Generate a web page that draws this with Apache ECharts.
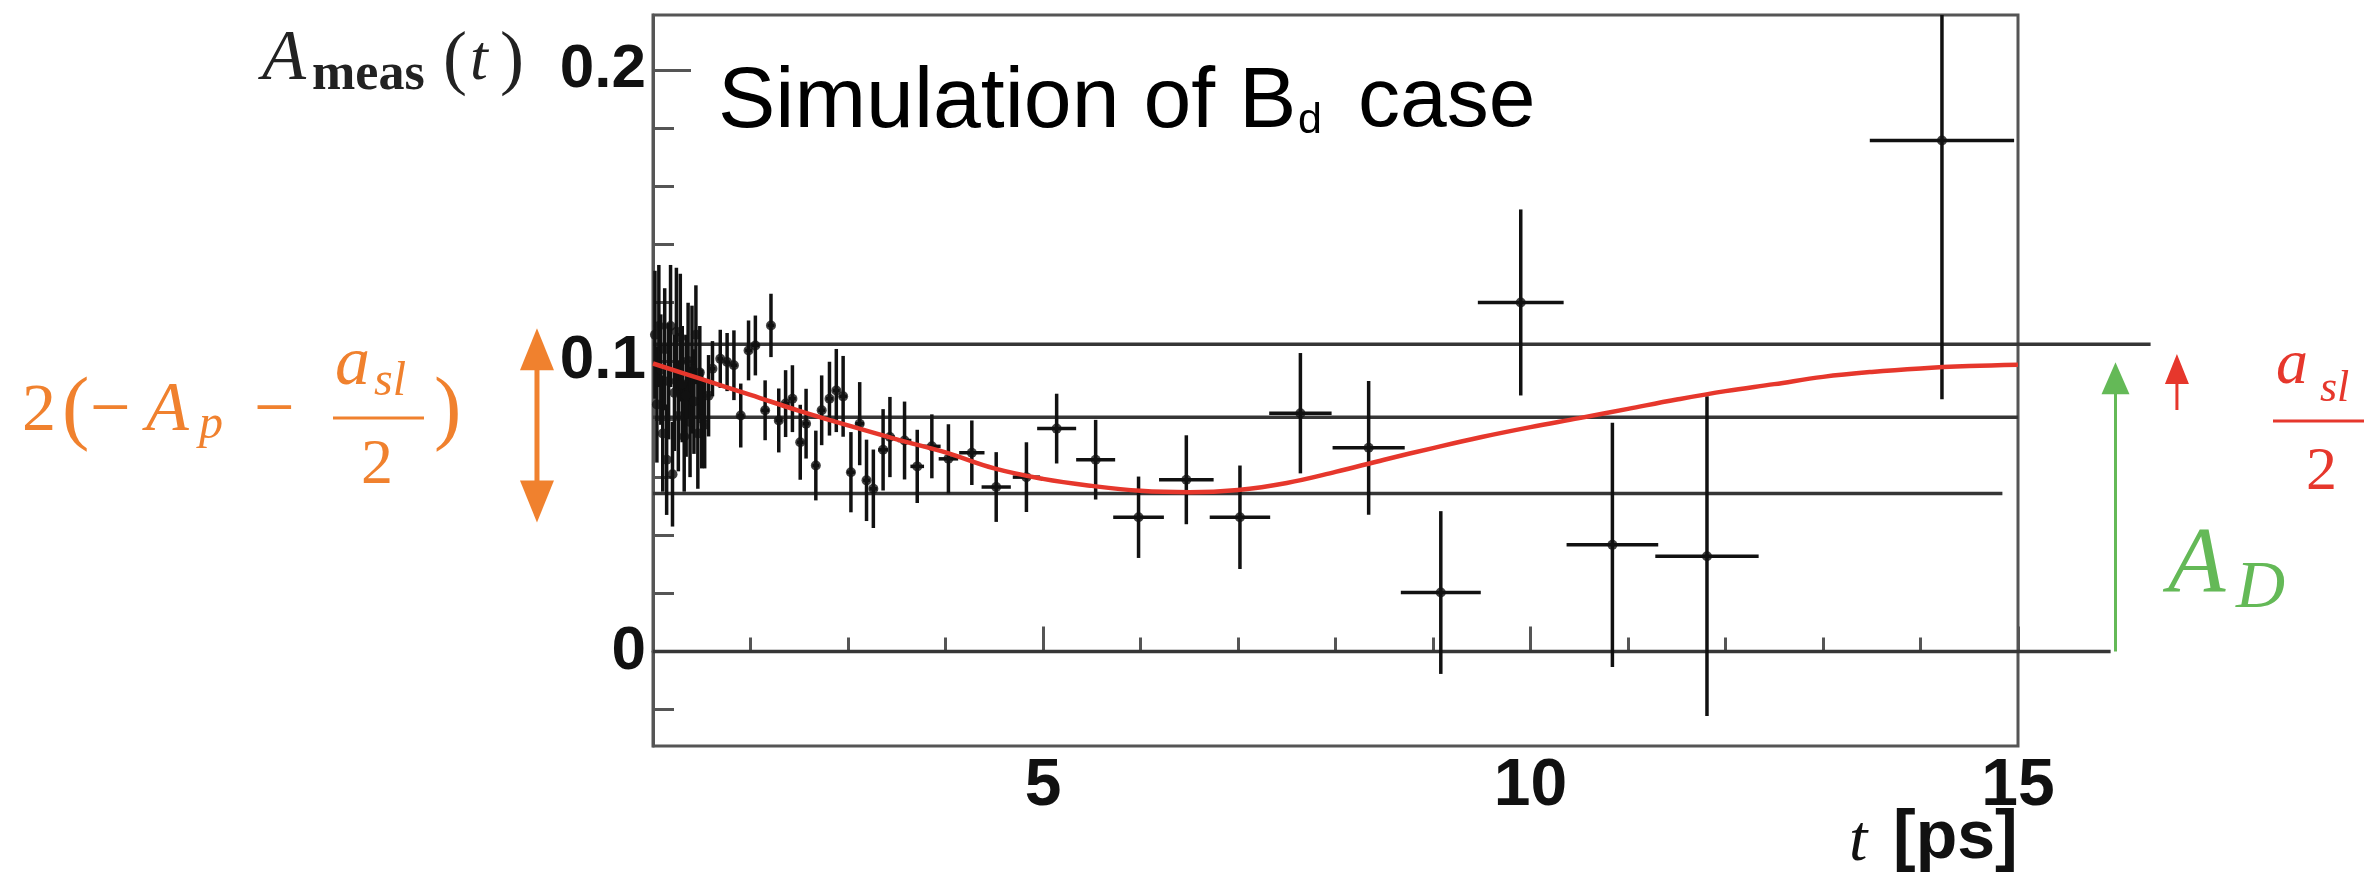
<!DOCTYPE html>
<html>
<head>
<meta charset="utf-8">
<script src="https://cdn.jsdelivr.net/npm/echarts@6/dist/echarts.min.js"></script>
<style>
  html, body { margin: 0; padding: 0; background: #ffffff; }
  #chart { width: 2364px; height: 880px; }
</style>
</head>
<body>
<div id="chart"></div>
<script>
// ---- measured asymmetry A_meas(t), simulated B_d sample ----
const times = [1.02,1.04,1.06,1.08,1.10,1.12,1.14,1.16,1.18,1.20,1.22,1.24,1.26,1.28,1.30,1.32,1.34,1.36,1.38,1.40,1.42,1.44,1.46,1.48,1.50,1.53,1.57,
  1.61,1.69,1.76,1.83,1.90,1.98,2.05,2.15,2.21,2.29,2.36,2.43,2.51,2.57,2.67,2.73,
  2.81,2.88,2.95,3.03,3.12,3.19,3.26,3.36,3.43,3.58,3.71,3.86,4.03,4.27,4.52,4.83,5.14,
  5.54,5.98,6.47,7.02,7.64,8.34,9.08,9.90,10.84,11.81,14.22];
const values = [0.109,0.085,0.112,0.097,0.075,0.104,0.066,0.093,0.112,0.061,0.089,0.110,0.081,0.108,0.092,0.074,0.088,0.100,0.079,0.097,0.086,0.109,0.075,0.096,0.080,0.078,0.088,
  0.0973,0.1007,0.0996,0.0985,0.0812,0.1036,0.1053,0.0830,0.1122,0.0795,0.0853,0.0870,0.0720,0.0784,0.0640,0.0830,
  0.0870,0.0898,0.0878,0.0617,0.0784,0.0589,0.0560,0.0694,0.0738,0.0726,0.0637,0.0706,0.0663,0.0684,0.0566,0.0600,0.0767,
  0.0660,0.0462,0.0591,0.0462,0.0820,0.0701,0.0203,0.1201,0.0367,0.0328,0.1758];
const errV = [0.022,0.020,0.021,0.019,0.020,0.021,0.019,0.020,0.021,0.018,0.020,0.022,0.019,0.022,0.020,0.019,0.021,0.020,0.019,0.022,0.018,0.017,0.019,0.016,0.017,0.015,0.014,
  0.0095,0.010,0.010,0.012,0.011,0.0103,0.0103,0.0103,0.0109,0.011,0.0115,0.0115,0.0129,0.012,0.012,0.012,
  0.0127,0.0143,0.0139,0.0138,0.0143,0.014,0.0135,0.014,0.0138,0.0134,0.0126,0.011,0.0119,0.0111,0.012,0.012,0.012,
  0.0137,0.014,0.0153,0.0178,0.0207,0.023,0.028,0.032,0.042,0.055,0.089];
const errT = [0.01,0.01,0.01,0.01,0.01,0.01,0.01,0.01,0.01,0.01,0.01,0.01,0.01,0.01,0.01,0.01,0.01,0.01,0.01,0.01,0.01,0.01,0.01,0.01,0.01,0.015,0.02,
  0.03,0.03,0.03,0.035,0.035,0.035,0.04,0.04,0.035,0.035,0.035,0.035,0.035,0.035,0.035,0.035,
  0.035,0.035,0.04,0.04,0.045,0.035,0.04,0.05,0.05,0.07,0.07,0.09,0.10,0.13,0.15,0.14,0.20,
  0.20,0.26,0.28,0.31,0.32,0.37,0.41,0.44,0.47,0.53,0.74];

// fitted asymmetry curve
const curveT = [1,1.5,2,2.5,3,3.5,4,4.5,5,5.5,6,6.5,7,7.5,8,8.5,9,9.5,10,10.5,11,11.5,12,12.5,13,13.5,14,14.5,15];
const curveV = [0.0991,0.0937,0.0883,0.0828,0.0778,0.0730,0.0685,0.0630,0.0594,0.0570,0.0553,0.0548,0.0556,0.0580,0.0618,0.0660,0.0700,0.0738,0.0772,0.0803,0.0835,0.0867,0.0896,0.0920,0.0945,0.0962,0.0974,0.0982,0.0987];

// horizontal reference levels and where each one stops on the t axis
const levelValues = [0.1057, 0.0806, 0.0544, 0];
const levelEnds = [16.36, 15, 14.84, 15.95];

// annotation arrows: [t, from, to]
const arrowAmp = [-0.19, 0.0444, 0.1112];
const arrowAD = [16.0, 0, 0.0995];
const arrowAsl = [16.63, 0.0831, 0.1024];

// axis ticks
const xMajorTicks = [5, 10, 15];
const xMinorTicks = [2, 3, 4, 6, 7, 8, 9, 11, 12, 13, 14];
const yMajorTicks = [0, 0.1, 0.2];
const yMinorTicks = [-0.02, 0.02, 0.04, 0.06, 0.08, 0.12, 0.14, 0.16, 0.18];

const SERIF = '"Liberation Serif", "DejaVu Serif", serif';
const SANS = '"Liberation Sans", Arial, Helvetica, sans-serif';
const ORANGE = '#F0812E';
const GREEN = '#64B957';
const RED = '#E6372C';
const INK = '#111111';
const FRAME = '#555555';

const points = times.map((t, i) => [t, values[i], errV[i], errT[i]]);
const curve = curveT.map((t, i) => [t, curveV[i]]);
const levels = levelValues.map((v, i) => [1, levelEnds[i], v]);

function arrowSeries(arrow, color, width, headW, headL, both) {
  return {
    type: 'custom', clip: false, silent: true, z: 6,
    data: [arrow],
    encode: { x: 0, y: [1, 2] },
    renderItem(params, api) {
      const t = api.value(0);
      const p0 = api.coord([t, api.value(1)]);
      const p1 = api.coord([t, api.value(2)]);
      const head = (tip, dirSign) => ({
        type: 'polygon',
        shape: { points: [[tip[0], tip[1]], [tip[0] - headW / 2, tip[1] + dirSign * headL], [tip[0] + headW / 2, tip[1] + dirSign * headL]] },
        style: { fill: color }
      });
      const y0 = both ? p0[1] - headL * 0.6 : p0[1];
      const y1 = p1[1] + headL * 0.6;
      const children = [
        { type: 'line', shape: { x1: p0[0], y1: y0, x2: p1[0], y2: y1 }, style: { stroke: color, lineWidth: width } },
        head(p1, 1)
      ];
      if (both) children.push(head(p0, -1));
      return { type: 'group', children };
    }
  };
}

function txt(text, x, y, size, color, extra) {
  return {
    type: 'text', x, y, silent: true, z: 50,
    style: Object.assign({
      text, fontSize: size, fontFamily: SERIF, fill: color,
      align: 'left', verticalAlign: 'middle'
    }, extra || {})
  };
}
function bar(x1, x2, y, color) {
  return { type: 'line', silent: true, z: 50, shape: { x1, y1: y, x2, y2: y }, style: { stroke: color, lineWidth: 3 } };
}

const chart = echarts.init(document.getElementById('chart'), null, { renderer: 'canvas', width: 2364, height: 880 });

const axisLabelX = { fontFamily: SANS, fontWeight: 'bold', fontSize: 66, color: INK, margin: 8, lineHeight: 66 };
const axisLabelY = { fontFamily: SANS, fontWeight: 'bold', fontSize: 62, color: INK, margin: 7 };

chart.setOption({
  animation: false,
  backgroundColor: '#ffffff',
  grid: {
    left: 653, right: 346, top: 15, bottom: 134,
    show: true, borderColor: FRAME, borderWidth: 3, backgroundColor: 'transparent'
  },
  xAxis: [
    {
      type: 'value', min: 1, max: 15, position: 'bottom',
      axisLine: { show: true, lineStyle: { color: FRAME, width: 3 } },
      splitLine: { show: false },
      axisTick: { show: true, inside: true, length: 25, customValues: xMajorTicks, lineStyle: { color: FRAME, width: 3 } },
      axisLabel: Object.assign({ customValues: xMajorTicks }, axisLabelX)
    },
    {
      type: 'value', min: 1, max: 15, position: 'bottom',
      axisLine: { show: false }, splitLine: { show: false },
      axisTick: { show: true, inside: true, length: 14, customValues: xMinorTicks, lineStyle: { color: FRAME, width: 3 } },
      axisLabel: { show: false }
    }
  ],
  yAxis: [
    {
      type: 'value', min: -0.0325, max: 0.219, position: 'left',
      axisLine: { show: true, lineStyle: { color: FRAME, width: 3 } },
      splitLine: { show: false },
      axisTick: { show: true, inside: true, length: 38, customValues: yMajorTicks, lineStyle: { color: FRAME, width: 3 } },
      axisLabel: Object.assign({ customValues: yMajorTicks, formatter: v => String(+v.toFixed(2)) }, axisLabelY)
    },
    {
      type: 'value', min: -0.0325, max: 0.219, position: 'left',
      axisLine: { show: false }, splitLine: { show: false },
      axisTick: { show: true, inside: true, length: 21, customValues: yMinorTicks, lineStyle: { color: FRAME, width: 3 } },
      axisLabel: { show: false }
    }
  ],
  series: [
    {
      // horizontal reference levels, some running past the frame
      type: 'custom', clip: false, silent: true, z: 1,
      data: levels,
      encode: { x: [0, 1], y: 2 },
      renderItem(params, api) {
        const a = api.coord([api.value(0), api.value(2)]);
        const b = api.coord([api.value(1), api.value(2)]);
        return { type: 'line', shape: { x1: a[0], y1: a[1], x2: b[0], y2: b[1] }, style: { stroke: '#363636', lineWidth: 3.5 } };
      }
    },
    {
      // error bars in t and A
      type: 'custom', clip: true, z: 3, silent: true,
      data: points,
      encode: { x: 0, y: 1 },
      renderItem(params, api) {
        const t = api.value(0), v = api.value(1), ev = api.value(2), et = api.value(3);
        const top = api.coord([t, v + ev]), bot = api.coord([t, v - ev]);
        const l = api.coord([t - et, v]), r = api.coord([t + et, v]);
        return {
          type: 'group', children: [
            { type: 'line', shape: { x1: top[0], y1: top[1], x2: bot[0], y2: bot[1] }, style: { stroke: INK, lineWidth: 3.5 } },
            { type: 'line', shape: { x1: l[0], y1: l[1], x2: r[0], y2: r[1] }, style: { stroke: INK, lineWidth: 3.5 } }
          ]
        };
      }
    },
    {
      type: 'scatter', z: 4, silent: true,
      data: points.map(p => [p[0], p[1]]),
      symbol: 'circle', symbolSize: 10,
      itemStyle: { color: INK }
    },
    {
      type: 'line', z: 5, silent: true,
      data: curve, smooth: 0.4, symbol: 'none',
      lineStyle: { color: RED, width: 4.5 }
    },
    arrowSeries(arrowAmp, ORANGE, 5, 34, 42, true),
    arrowSeries(arrowAD, GREEN, 3, 28, 32, false),
    arrowSeries(arrowAsl, RED, 3, 24, 30, false)
  ],
  graphic: [
    // title
    txt('Simulation of B', 718, 103, 86, '#000', { fontFamily: SANS }),
    txt('d', 1298, 121, 43, '#000', { fontFamily: SANS }),
    txt('case', 1358, 103, 84, '#000', { fontFamily: SANS }),

    // y axis title A_meas(t)
    txt('A', 262, 60, 72, '#222', { fontStyle: 'italic' }),
    txt('meas', 312, 76, 52, '#222', { fontWeight: 'bold' }),
    txt('(', 443, 62, 72, '#222'),
    txt('t', 470, 62, 64, '#222', { fontStyle: 'italic' }),
    txt(')', 500, 62, 72, '#222'),

    // x axis title t [ps]
    txt('t', 1849, 843, 66, '#111', { fontStyle: 'italic' }),
    txt('[ps]', 1893, 839, 68, '#111', { fontFamily: SANS, fontWeight: 'bold' }),

    // 2(-A_p - a_sl/2)
    txt('2', 22, 412, 68, ORANGE),
    txt('(', 62, 412, 82, ORANGE),
    txt('\u2212', 90, 412, 72, ORANGE),
    txt('A', 146, 412, 70, ORANGE, { fontStyle: 'italic' }),
    txt('p', 199, 425, 48, ORANGE, { fontStyle: 'italic' }),
    txt('\u2212', 254, 412, 72, ORANGE),
    txt('a', 335, 366, 70, ORANGE, { fontStyle: 'italic' }),
    txt('sl', 374, 382, 48, ORANGE, { fontStyle: 'italic' }),
    bar(333, 424, 418, ORANGE),
    txt('2', 361, 466, 64, ORANGE),
    txt(')', 434, 412, 82, ORANGE),

    // A_D
    txt('A', 2168, 566, 94, GREEN, { fontStyle: 'italic' }),
    txt('D', 2236, 589, 68, GREEN, { fontStyle: 'italic' }),

    // a_sl / 2
    txt('a', 2276, 366, 64, RED, { fontStyle: 'italic' }),
    txt('sl', 2320, 389, 44, RED, { fontStyle: 'italic' }),
    bar(2273, 2364, 421, RED),
    txt('2', 2306, 473, 62, RED)
  ]
});
</script>
</body>
</html>
